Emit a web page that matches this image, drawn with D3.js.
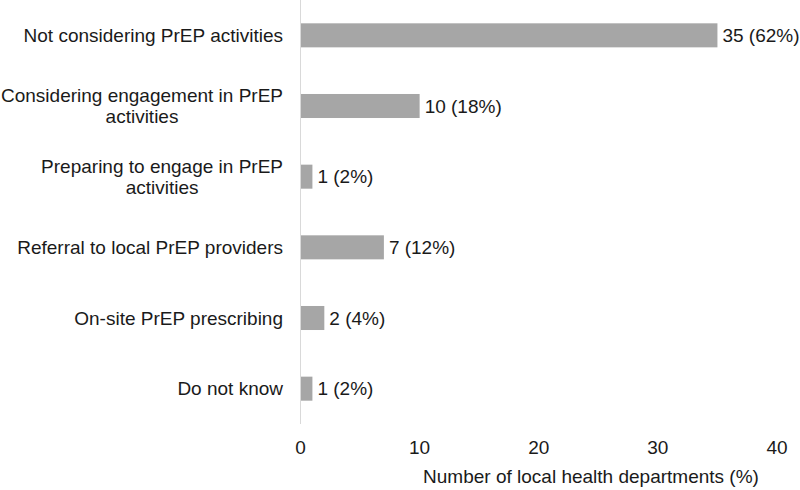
<!DOCTYPE html>
<html>
<head>
<meta charset="utf-8">
<script src="https://cdn.jsdelivr.net/npm/d3@7"></script>
<style>
  body { margin: 0; background: #fff; }
  svg { font-family: "Liberation Sans", Arial, sans-serif; }
</style>
</head>
<body>
<svg width="800" height="490"></svg>
<script>
// data
const categories = [
  ["Not considering PrEP activities"],
  ["Considering engagement in PrEP", "activities"],
  ["Preparing to engage in PrEP", "activities"],
  ["Referral to local PrEP providers"],
  ["On-site PrEP prescribing"],
  ["Do not know"]
];
const counts = [35, 10, 1, 7, 2, 1];
const percents = [62, 18, 2, 12, 4, 2];
const xTicks = [0, 10, 20, 30, 40];

const fs = 19;
const svg = d3.select("svg");

const x = d3.scaleLinear().domain([0, 40]).range([300.5, 777]);
const y = d3
  .scaleBand()
  .domain(d3.range(categories.length))
  .range([0, 424])
  .paddingInner(0.66)
  .paddingOuter(0.33);

// vertical axis line
svg
  .append("line")
  .attr("x1", x(0))
  .attr("x2", x(0))
  .attr("y1", 0)
  .attr("y2", 424)
  .attr("stroke", "#d9d9d9")
  .attr("stroke-width", 1);

// bars
svg
  .append("g")
  .selectAll("rect")
  .data(counts)
  .join("rect")
  .attr("x", x(0) + 0.5)
  .attr("y", (d, i) => y(i))
  .attr("width", (d) => x(d) - x(0) - 0.5)
  .attr("height", y.bandwidth())
  .attr("fill", "#a6a6a6");

// value labels
svg
  .append("g")
  .selectAll("text")
  .data(counts)
  .join("text")
  .attr("x", (d) => x(d) + 5)
  .attr("y", (d, i) => y(i) + y.bandwidth() / 2)
  .attr("dy", "0.35em")
  .attr("font-size", fs)
  .attr("fill", "#1a1a1a")
  .text((d, i) => `${d} (${percents[i]}%)`);

// category labels (wrapped lines centred on each other, block right-aligned)
const labelRight = 283;
const lineH = 21;
const measure = svg.append("text").attr("font-size", fs).attr("visibility", "hidden");
categories.forEach((lines, i) => {
  const widths = lines.map((l) => {
    measure.text(l);
    return measure.node().getComputedTextLength();
  });
  const blockW = d3.max(widths);
  const cx = labelRight - blockW / 2;
  const cy = y(i) + y.bandwidth() / 2;
  const t = svg
    .append("text")
    .attr("font-size", fs)
    .attr("fill", "#1a1a1a")
    .attr("text-anchor", "middle");
  lines.forEach((l, j) => {
    t.append("tspan")
      .attr("x", cx)
      .attr("y", cy + (j - (lines.length - 1) / 2) * lineH)
      .attr("dy", "0.35em")
      .text(l);
  });
});
measure.remove();

// x tick labels
svg
  .append("g")
  .selectAll("text")
  .data(xTicks)
  .join("text")
  .attr("x", (d) => x(d))
  .attr("y", 454)
  .attr("text-anchor", "middle")
  .attr("font-size", fs)
  .attr("fill", "#1a1a1a")
  .text((d) => d);

// axis title
svg
  .append("text")
  .attr("x", 591)
  .attr("y", 483)
  .attr("text-anchor", "middle")
  .attr("font-size", fs)
  .attr("fill", "#1a1a1a")
  .text("Number of local health departments (%)");
</script>
</body>
</html>
